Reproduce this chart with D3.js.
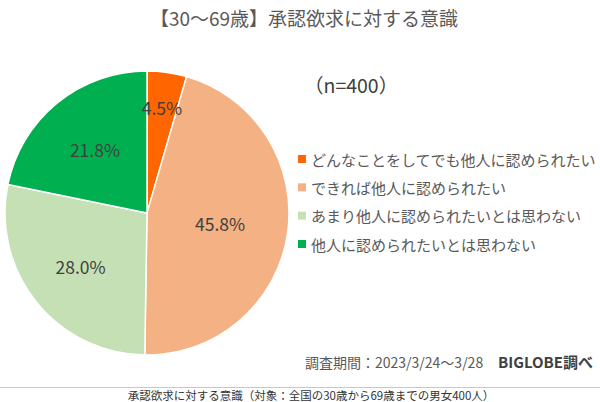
<!DOCTYPE html>
<html><head><meta charset="utf-8">
<script src="https://cdn.jsdelivr.net/npm/d3@7"></script>
<style>
html,body{margin:0;padding:0;background:#fff;}
svg{display:block;font-family:"Noto Sans CJK JP","Noto Sans",sans-serif;}
</style></head>
<body>
<svg id="chart" width="600" height="402"></svg>
<script>
const categories = ["どんなことをしてでも他人に認められたい","できれば他人に認められたい","あまり他人に認められたいとは思わない","他人に認められたいとは思わない"];
const values = [4.5, 45.8, 28.0, 21.8];
const colors = ["#FF6600","#F4B183","#C5E0B4","#00B050"];
const labelRadiusFrac = [0.75, 0.52, 0.6, 0.58];
const titleText = "【30～69歳】承認欲求に対する意識";
const nText = "（n=400）";
const periodText = "調査期間：2023/3/24～3/28";
const sourceText = "BIGLOBE調べ";
const captionText = "承認欲求に対する意識（対象：全国の30歳から69歳までの男女400人）";

const svg = d3.select("#chart");
const cx = 147, cy = 213, R = 142;

svg.append("text").attr("x", 304).attr("y", 26).attr("text-anchor","middle")
  .attr("font-size", 19).attr("fill","#595959").text(titleText);

const pie = d3.pie().sort(null).value(d => d)(values);
const arc = d3.arc().innerRadius(0).outerRadius(R);
const g = svg.append("g").attr("transform", `translate(${cx},${cy})`);
g.selectAll("path").data(pie).join("path")
  .attr("d", arc).attr("fill", (d,i) => colors[i])
  .attr("stroke","#fff").attr("stroke-width",1.5);
g.selectAll("text.lbl").data(pie).join("text").attr("class","lbl")
  .attr("transform",(d,i) => {
    const r = R*labelRadiusFrac[i];
    const c = d3.arc().innerRadius(r).outerRadius(r).centroid(d);
    return `translate(${c[0]},${c[1]})`;
  })
  .attr("text-anchor","middle").attr("dominant-baseline","central")
  .attr("font-size",17.5).attr("fill","#404040")
  .text(d => d3.format(".1f")(d.data) + "%");

svg.append("text").attr("x", 304).attr("y", 93).attr("font-size", 19.5).attr("fill","#404040").text(nText);

const leg = svg.append("g");
const ly = d3.scalePoint().domain(d3.range(categories.length)).range([159, 244]);
categories.forEach((c,i) => {
  leg.append("rect").attr("x", 298).attr("y", ly(i)-4).attr("width", 8).attr("height", 8).attr("fill", colors[i]);
  leg.append("text").attr("x", 311).attr("y", ly(i)).attr("dominant-baseline","central")
    .attr("font-size", 15).attr("fill","#595959").text(c);
});

svg.append("text").attr("x", 305).attr("y", 368).attr("font-size", 14).attr("fill","#595959").text(periodText);
svg.append("text").attr("x", 593).attr("y", 368).attr("text-anchor","end").attr("font-size", 15)
  .attr("font-weight","bold").attr("fill","#404040").text(sourceText);

svg.append("line").attr("x1",0).attr("x2",600).attr("y1",387.5).attr("y2",387.5).attr("stroke","#c8c8c8");
svg.append("text").attr("x", 311).attr("y", 400).attr("text-anchor","middle").attr("font-size", 11.5)
  .attr("fill","#333").text(captionText);
</script>
</body></html>
